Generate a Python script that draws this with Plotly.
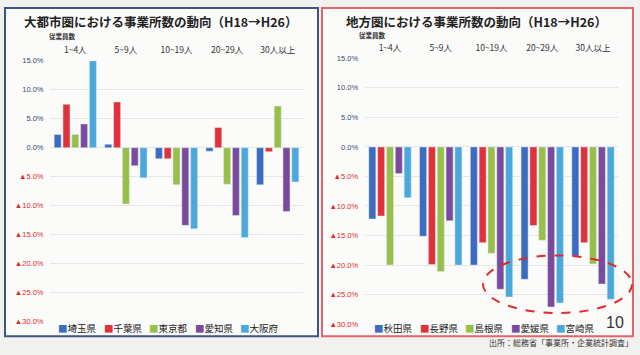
import plotly.graph_objects as go

W, H = 640, 355

categories = ["1~4人", "5~9人", "10~19人", "20~29人", "30人以上"]

# Left: metropolitan areas (% change H18 -> H26)
metro_names = ["埼玉県", "千葉県", "東京都", "愛知県", "大阪府"]
saitama = [2.3, 0.6, -1.9, -0.6, -6.4]
chiba = [7.5, 7.9, -1.9, 3.5, -0.7]
tokyo = [2.3, -9.7, -6.4, -6.3, 7.2]
aichi = [4.1, -3.1, -13.4, -11.7, -11.0]
osaka = [15.0, -5.2, -14.0, -15.5, -5.9]
metro_values = [saitama, chiba, tokyo, aichi, osaka]

# Right: regional areas
local_names = ["秋田県", "長野県", "島根県", "愛媛県", "宮崎県"]
akita = [-12.2, -15.1, -20.0, -22.4, -18.5]
nagano = [-11.7, -19.9, -16.2, -13.3, -16.2]
shimane = [-20.0, -21.1, -18.0, -15.8, -19.8]
ehime = [-4.5, -12.5, -24.1, -27.1, -23.2]
miyazaki = [-8.6, -20.0, -25.4, -26.4, -25.8]
local_values = [akita, nagano, shimane, ehime, miyazaki]

colors = ["#3b6cc0", "#e0323a", "#96c04a", "#7a4b9c", "#4ba8da"]

tick_vals = [15, 10, 5, 0, -5, -10, -15, -20, -25, -30]


def tick_text(v):
    if v < 0:
        return f"<span style='color:#e02a2a'>▲{abs(v):.1f}%</span>"
    return f"<span style='color:#3a4a72'>{v:.1f}%</span>"


tick_texts = [tick_text(v) for v in tick_vals]


def px(x):
    return x / W


def py(y):
    return 1 - y / H


fig = go.Figure()
for name, vals, c in zip(metro_names, metro_values, colors):
    fig.add_trace(go.Bar(x=categories, y=vals, name=name, marker_color=c,
                         xaxis="x", yaxis="y", showlegend=False))
for name, vals, c in zip(local_names, local_values, colors):
    fig.add_trace(go.Bar(x=categories, y=vals, name=name, marker_color=c,
                         xaxis="x2", yaxis="y2", showlegend=False))

font_lat = "Liberation Sans, Noto Sans CJK JP, sans-serif"
font_cjk = "Noto Sans CJK JP, sans-serif"

xcommon = dict(side="top", showgrid=False, zeroline=False, showline=False,
               ticks="outside", ticklen=3, tickcolor="rgba(0,0,0,0)",
               tickfont=dict(size=8.5, color="#333333", family=font_cjk))
ycommon = dict(range=[-30, 15], tickvals=tick_vals, ticktext=tick_texts,
               showgrid=True, gridcolor="#e6e6e6", gridwidth=1, zeroline=False,
               showline=False, tickfont=dict(size=7.5, family=font_lat),
               ticks="outside", ticklen=4, tickcolor="rgba(0,0,0,0)")

fig.update_layout(
    width=W, height=H,
    margin=dict(l=0, r=0, t=0, b=0),
    paper_bgcolor="#f1f1ef",
    plot_bgcolor="rgba(0,0,0,0)",
    barmode="group", bargap=0.13, bargroupgap=0.2,
    xaxis=dict(domain=[px(50), px(303)], anchor="y", **xcommon),
    yaxis=dict(domain=[py(325.8), py(58.3)], anchor="x", **ycommon),
    xaxis2=dict(domain=[px(364.6), px(618.4)], anchor="y2", **xcommon),
    yaxis2=dict(domain=[py(328.5), py(55.7)], anchor="x2", **ycommon),
)

shapes = [
    dict(type="rect", xref="paper", yref="paper", x0=px(5), x1=px(318), y0=py(341), y1=py(4),
         line=dict(color="#3c5585", width=2), fillcolor="#fbfbfa", layer="below"),
    dict(type="rect", xref="paper", yref="paper", x0=px(322), x1=px(633), y0=py(341), y1=py(4),
         line=dict(color="#e06468", width=2), fillcolor="#fbfbfa", layer="below"),
    dict(type="circle", xref="paper", yref="paper", x0=px(483), x1=px(632), y0=py(317), y1=py(258),
         line=dict(color="#e02a2a", width=2, dash="dash"), layer="above"),
]
fig.update_layout(shapes=shapes)

ann = [
    dict(text="<b>大都市圏における事業所数の動向（H18→H26）</b>", x=px(160), y=py(18),
         font=dict(size=12.5, color="#222222", family=font_cjk)),
    dict(text="<b>地方圏における事業所数の動向（H18→H26）</b>", x=px(476), y=py(18),
         font=dict(size=12.5, color="#222222", family=font_cjk)),
    dict(text="<b>従業員数</b>", x=px(62), y=py(33), font=dict(size=6.5, color="#333333", family=font_cjk)),
    dict(text="<b>従業員数</b>", x=px(372), y=py(32), font=dict(size=6.5, color="#333333", family=font_cjk)),
    dict(text="10", x=px(615), y=py(327), font=dict(size=16, color="#333333", family=font_lat)),
    dict(text="出所：総務省「事業所・企業統計調査」", x=px(635), y=py(347), xanchor="right",
         font=dict(size=8, color="#333333", family=font_cjk)),
]
for i, (name, c) in enumerate(zip(metro_names, colors)):
    ann.append(dict(text=f"<span style='color:{c}'>■</span>{name}", x=px(56 + i * 45.6), y=py(332),
                    xanchor="left", font=dict(size=9.5, color="#222222", family=font_cjk)))
for i, (name, c) in enumerate(zip(local_names, colors)):
    ann.append(dict(text=f"<span style='color:{c}'>■</span>{name}", x=px(372 + i * 45.6), y=py(332),
                    xanchor="left", font=dict(size=9.5, color="#222222", family=font_cjk)))
for a in ann:
    a.update(xref="paper", yref="paper", showarrow=False)
    a.setdefault("xanchor", "center")
    a.setdefault("yanchor", "middle")
fig.update_layout(annotations=ann)

fig.write_html("out.html", config={"displayModeBar": False},
               post_script="document.body.style.margin='0px';document.body.style.overflow='hidden';")
